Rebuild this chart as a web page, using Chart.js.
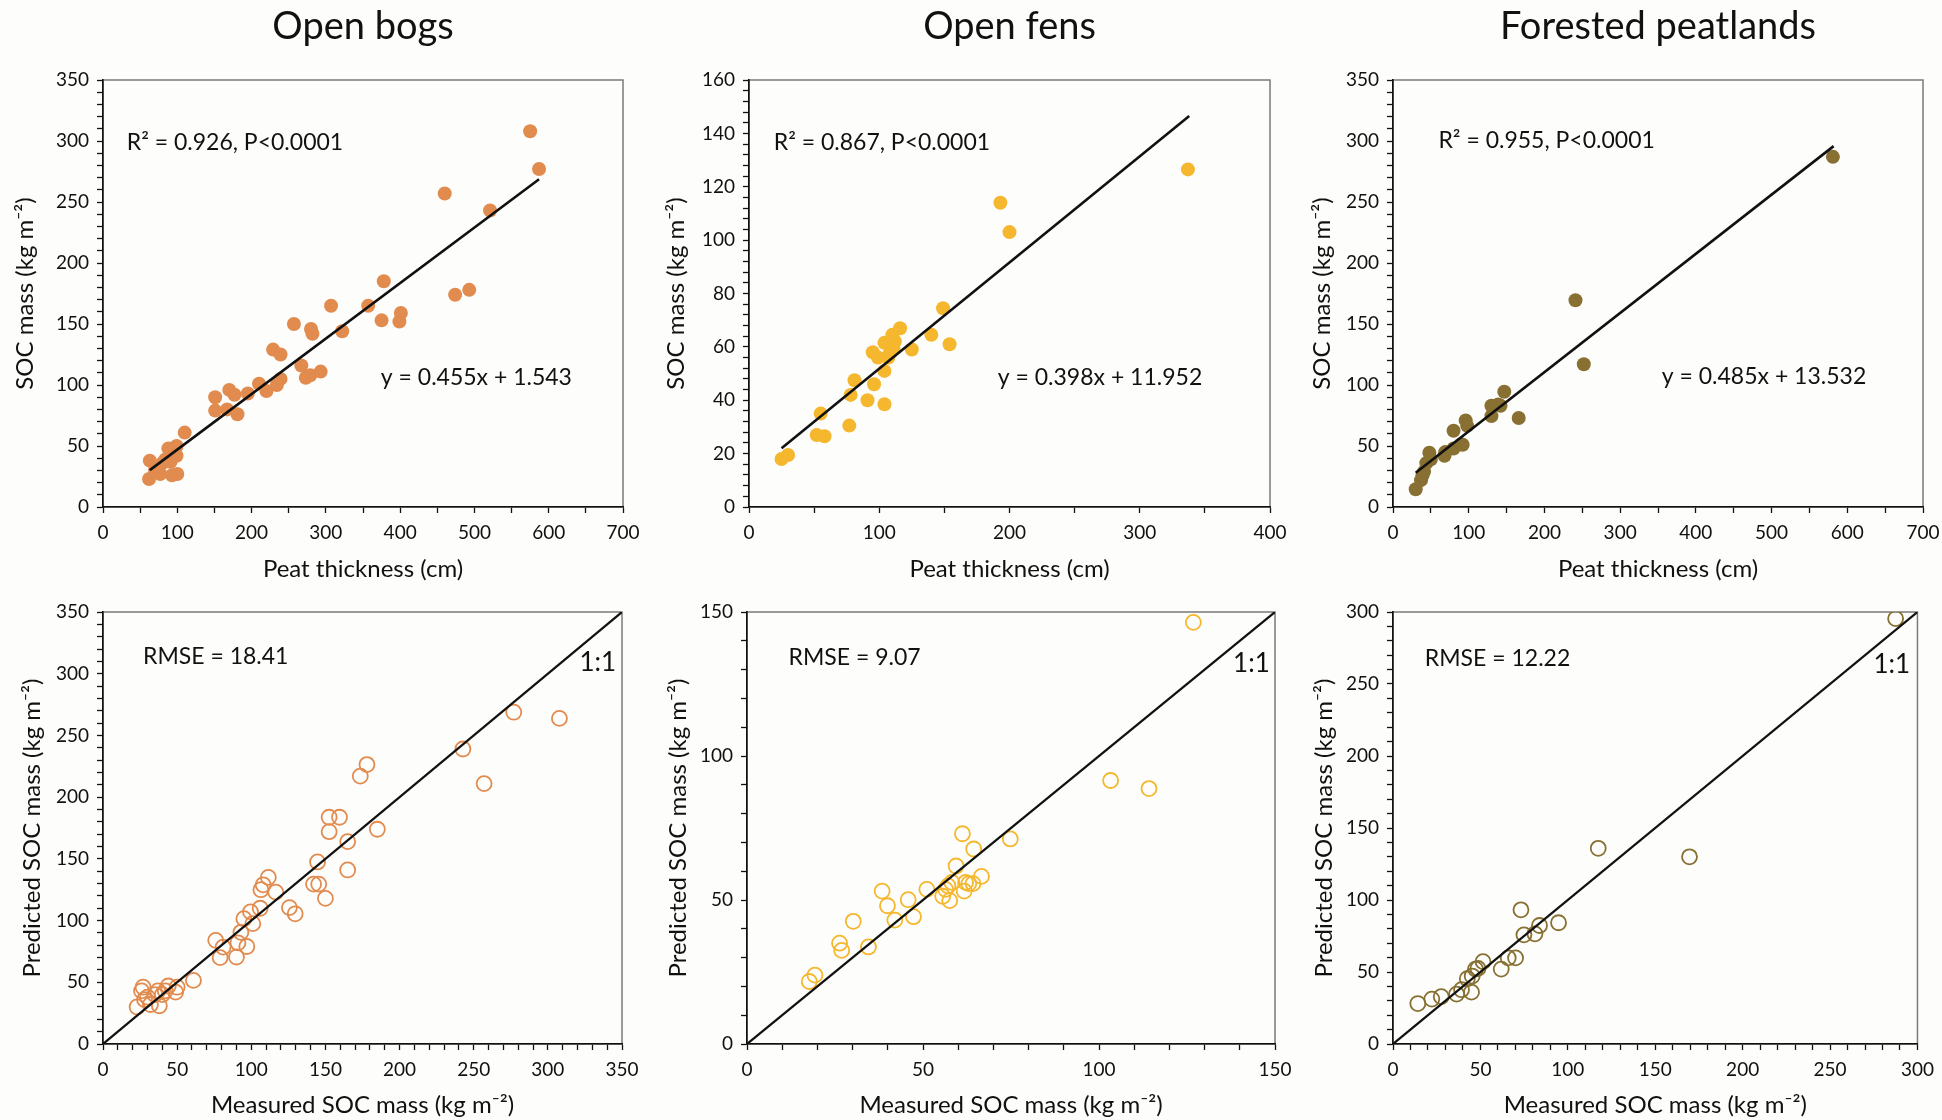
<!DOCTYPE html>
<html>
<head>
<meta charset="utf-8">
<script src="https://cdn.jsdelivr.net/npm/chart.js@4.4.1/dist/chart.umd.min.js"></script>
<style>
  html, body { margin: 0; padding: 0; background: #fdfdfb; overflow: hidden; }
  body { width: 1942px; height: 1120px; position: relative; }
  canvas { position: absolute; }
</style>
</head>
<body>
<canvas id="bogTop"></canvas>
<canvas id="fenTop"></canvas>
<canvas id="forestTop"></canvas>
<canvas id="bogBottom"></canvas>
<canvas id="fenBottom"></canvas>
<canvas id="forestBottom"></canvas>
<script>
// ---- data ----
const panelTitles = ['Open bogs', 'Open fens', 'Forested peatlands'];

// Open bogs: peat thickness (cm) vs SOC mass (kg m-2)
const bogThickness = [62, 63, 70, 74, 77, 80, 84, 88, 91, 93, 96, 99, 99, 100, 110, 151, 151, 167, 170, 177, 181, 195, 210, 220, 229, 234, 239, 239, 257, 267, 273, 279, 280, 282, 293, 307, 322, 357, 375, 378, 399, 401, 460, 474, 493, 521, 575, 587];
const bogSoc = [23, 38, 30, 33, 27, 36, 39, 48, 37, 26, 48, 50, 42, 27, 61, 90, 79, 80, 96, 92, 76, 93, 101, 95, 129, 100, 125, 105, 150, 116, 106, 108, 146, 142, 111, 165, 144, 165, 153, 185, 152, 159, 257, 174, 178, 243, 308, 277];
const bogFitX = [63, 587];
const bogFitY = [30.2, 268.6];

// Open fens
const fenThickness = [25, 30, 52, 55, 58, 77, 78, 81, 91, 96, 95, 99, 104, 104, 104, 107, 108, 110, 111, 112, 116, 125, 140, 149, 154, 193, 200, 337];
const fenSoc = [18, 19.5, 27, 35, 26.5, 30.5, 42, 47.5, 40, 46, 58, 56, 51, 38.5, 61.5, 56, 57.5, 64.5, 59, 62, 67, 59, 64.5, 74.5, 61, 114, 103, 126.5];
const fenFitX = [25, 338];
const fenFitY = [22, 146.5];

// Forested peatlands
const forestThickness = [30, 37, 39, 41, 44, 48, 50, 68, 69, 80, 80, 90, 92, 96, 98, 130, 130, 139, 142, 147, 166, 241, 252, 581];
const forestSoc = [14.5, 22, 26, 29, 36, 44.5, 39, 42, 45, 62.5, 48, 51.5, 51, 71, 66.5, 83, 74.5, 84, 83, 94.5, 73, 169.5, 117, 287];
const forestFitX = [30, 582];
const forestFitY = [28.1, 295.8];

// measured vs predicted SOC mass (kg m-2)
const bogMeasured = [23, 26, 27, 28, 30, 32, 35, 37, 38, 40, 42, 44, 49, 50, 61, 76, 79, 81, 90, 91, 93, 95, 97, 99.5, 101, 106, 106.5, 108, 111.5, 116.5, 125.7, 129.6, 142, 144.7, 145.5, 150, 152.5, 152.5, 159.5, 165, 165, 173.5, 178, 185, 242.7, 257, 277, 307.8];
const bogPredicted = [30, 43, 46, 36, 38, 32, 40, 43, 31, 40, 43, 47, 42, 46, 51.5, 84, 70, 78.5, 70.5, 82, 90.5, 101.5, 79, 107, 97.5, 110, 125, 129, 135, 123, 110.5, 105.5, 129.5, 147.5, 129.5, 118, 172, 183.7, 183.7, 164, 141, 217, 226.4, 174, 239, 211, 268.8, 263.8];

const fenMeasured = [17.7, 19.3, 26.3, 26.9, 30.2, 34.5, 38.4, 39.9, 42, 45.8, 47.3, 51.1, 55.6, 56.4, 57.1, 57.6, 58.2, 59.4, 61.2, 61.7, 62.1, 63, 64.2, 64.4, 66.6, 74.8, 103.3, 114.2, 126.8];
const fenPredicted = [21.7, 23.9, 35, 32.5, 42.6, 33.7, 53.1, 48, 43, 50.1, 44.2, 53.7, 51.3, 53.7, 54.9, 49.8, 56.1, 61.8, 73, 53.1, 56.1, 55.7, 55.7, 67.7, 58.2, 71.2, 91.5, 88.7, 146.4];

const forestMeasured = [14.2, 22.2, 27.6, 36.4, 39.2, 42.5, 44.9, 45.3, 47.2, 48.6, 51.5, 61.9, 65.9, 70.1, 73.2, 74.9, 81.2, 83.8, 94.7, 117.4, 169.6, 287.5];
const forestPredicted = [28.1, 31.2, 32.9, 34.6, 37.7, 45.3, 36, 47.2, 52, 52.5, 57.2, 52, 59.8, 59.8, 93.2, 75.8, 76.5, 82.3, 84.2, 135.9, 130, 295.4];

// axis ranges: [max, minor step, labelled step]
const bogTopX = [700, 50, 100], bogTopY = [350, 10, 50];
const fenTopX = [400, 50, 100], fenTopY = [160, 4, 20];
const forestTopX = [700, 50, 100], forestTopY = [350, 10, 50];
const bogBottomAxis = [350, 10, 50];
const fenBottomAxis = [150, 10, 50];
const forestBottomAxis = [300, 10, 50];

const colors = ['#e28b4f', '#f4b72e', '#877032'];

// ---- helpers ----
Chart.defaults.font.family = 'Lato';
Chart.defaults.color = '#111';

const frame = {
  id: 'frame',
  beforeDraw(chart) {
    const { ctx, chartArea: a } = chart;
    ctx.save();
    ctx.strokeStyle = '#7a7a7a';
    ctx.lineWidth = 1.5;
    ctx.strokeRect(a.left, a.top, a.right - a.left, a.bottom - a.top);
    ctx.restore();
  }
};

const notes = {
  id: 'notes',
  afterDatasetsDraw(chart, args, opts) {
    const { ctx, scales: { x, y } } = chart;
    (opts.items || []).forEach(n => {
      ctx.save();
      ctx.font = n.size + 'px Lato';
      ctx.fillStyle = '#111';
      ctx.textAlign = n.align || 'left';
      ctx.textBaseline = 'middle';
      ctx.fillText(n.text, x.getPixelForValue(n.x), y.getPixelForValue(n.y));
      ctx.restore();
    });
  }
};

function axis(range, title, pos, fixed, titlePad) {
  const [max, step, labelStep] = range;
  const o = {
    type: 'linear', position: pos, min: 0, max: max,
    border: { display: true, color: '#111', width: 1.6 },
    grid: { drawOnChartArea: false, drawTicks: true, tickLength: 6, tickColor: '#111', tickWidth: 1.3 },
    ticks: {
      stepSize: step, autoSkip: false, maxRotation: 0, padding: 8,
      font: { size: 19, lineHeight: 1.2 }, color: '#111',
      callback: v => (Math.abs(v % labelStep) < 1e-6 ? String(v) : '')
    },
    title: { display: true, text: title, font: { size: 24, lineHeight: 1.2 }, color: '#111', padding: titlePad }
  };
  if (pos === 'left') o.afterFit = s => { s.width = fixed; };
  else o.afterFit = s => { s.height = fixed; };
  return o;
}

function place(id, left, top, width, height) {
  const c = document.getElementById(id);
  c.style.left = left + 'px';
  c.style.top = top + 'px';
  c.width = width; c.height = height;
  c.style.width = width + 'px'; c.style.height = height + 'px';
  return c;
}

function topPanel(id, left, width, padRight, yPad, i, xs, ys, fitX, fitY, xr, yr, items) {
  const c = place(id, left, 0, width, 590);
  new Chart(c, {
    type: 'scatter',
    data: {
      datasets: [
        { type: 'line', data: fitX.map((v, k) => ({ x: v, y: fitY[k] })), borderColor: '#111', borderWidth: 2.6, pointRadius: 0, fill: false },
        { data: xs.map((v, k) => ({ x: v, y: ys[k] })), backgroundColor: colors[i], borderWidth: 0, pointRadius: 7 }
      ]
    },
    options: {
      responsive: false, animation: false,
      layout: { padding: { left: 0, right: padRight, top: 0, bottom: 0 } },
      plugins: {
        legend: { display: false }, tooltip: { enabled: false },
        title: { display: true, fullSize: false, text: panelTitles[i], color: '#111', font: { size: 38, weight: 'normal', lineHeight: 1.2 }, padding: { top: 4.2, bottom: 30.2 } },
        notes: { items: items }
      },
      scales: {
        x: axis(xr, 'Peat thickness (cm)', 'bottom', 83, { top: 2, bottom: 6.6 }),
        y: axis(yr, 'SOC mass (kg m⁻²)', 'left', 103, { top: yPad, bottom: 0 })
      }
    },
    plugins: [frame, notes]
  });
}

function bottomPanel(id, left, width, padRight, yPad, i, xs, ys, ax, items) {
  const c = place(id, left, 560, width, 560);
  const max = ax[0];
  new Chart(c, {
    type: 'scatter',
    data: {
      datasets: [
        { type: 'line', data: [{ x: 0, y: 0 }, { x: max, y: max }], borderColor: '#111', borderWidth: 2.2, pointRadius: 0, fill: false },
        { data: xs.map((v, k) => ({ x: v, y: ys[k] })), backgroundColor: 'rgba(0,0,0,0)', borderColor: colors[i], borderWidth: 1.8, pointRadius: 7.5 }
      ]
    },
    options: {
      responsive: false, animation: false,
      layout: { padding: { left: 0, right: padRight, top: 52, bottom: 0 } },
      plugins: {
        legend: { display: false }, tooltip: { enabled: false },
        notes: { items: items }
      },
      scales: {
        x: axis(ax, 'Measured SOC mass (kg m⁻²)', 'bottom', 76, { top: 2, bottom: 0 }),
        y: axis(ax, 'Predicted SOC mass (kg m⁻²)', 'left', 103, { top: yPad, bottom: 0 })
      }
    },
    plugins: [frame, notes]
  });
}

topPanel('bogTop', 0, 706, 83, 11, 0, bogThickness, bogSoc, bogFitX, bogFitY, bogTopX, bogTopY, [
  { text: 'R² = 0.926, P<0.0001', x: 32, y: 299, size: 23 },
  { text: 'y = 0.455x + 1.543', x: 374, y: 106, size: 23 }
]);
topPanel('fenTop', 646, 696, 72, 16, 1, fenThickness, fenSoc, fenFitX, fenFitY, fenTopX, fenTopY, [
  { text: 'R² = 0.867, P<0.0001', x: 19, y: 136.7, size: 23 },
  { text: 'y = 0.398x + 11.952', x: 191, y: 48.5, size: 23 }
]);
topPanel('forestTop', 1290, 694, 61, 18, 2, forestThickness, forestSoc, forestFitX, forestFitY, forestTopX, forestTopY, [
  { text: 'R² = 0.955, P<0.0001', x: 60, y: 300, size: 23 },
  { text: 'y = 0.485x + 13.532', x: 355, y: 106.8, size: 23 }
]);

bottomPanel('bogBottom', 0, 706, 84, 18, 0, bogMeasured, bogPredicted, bogBottomAxis, [
  { text: 'RMSE = 18.41', x: 27, y: 314, size: 23 },
  { text: '1:1', x: 346, y: 309, size: 26, align: 'right' }
]);
bottomPanel('fenBottom', 644, 660, 29, 20, 1, fenMeasured, fenPredicted, fenBottomAxis, [
  { text: 'RMSE = 9.07', x: 11.8, y: 134.2, size: 23 },
  { text: '1:1', x: 148.5, y: 132, size: 26, align: 'right' }
]);
bottomPanel('forestBottom', 1290, 652, 20, 20, 2, forestMeasured, forestPredicted, forestBottomAxis, [
  { text: 'RMSE = 12.22', x: 18.2, y: 267.8, size: 23 },
  { text: '1:1', x: 295.8, y: 263.5, size: 26, align: 'right' }
]);
</script>
</body>
</html>
